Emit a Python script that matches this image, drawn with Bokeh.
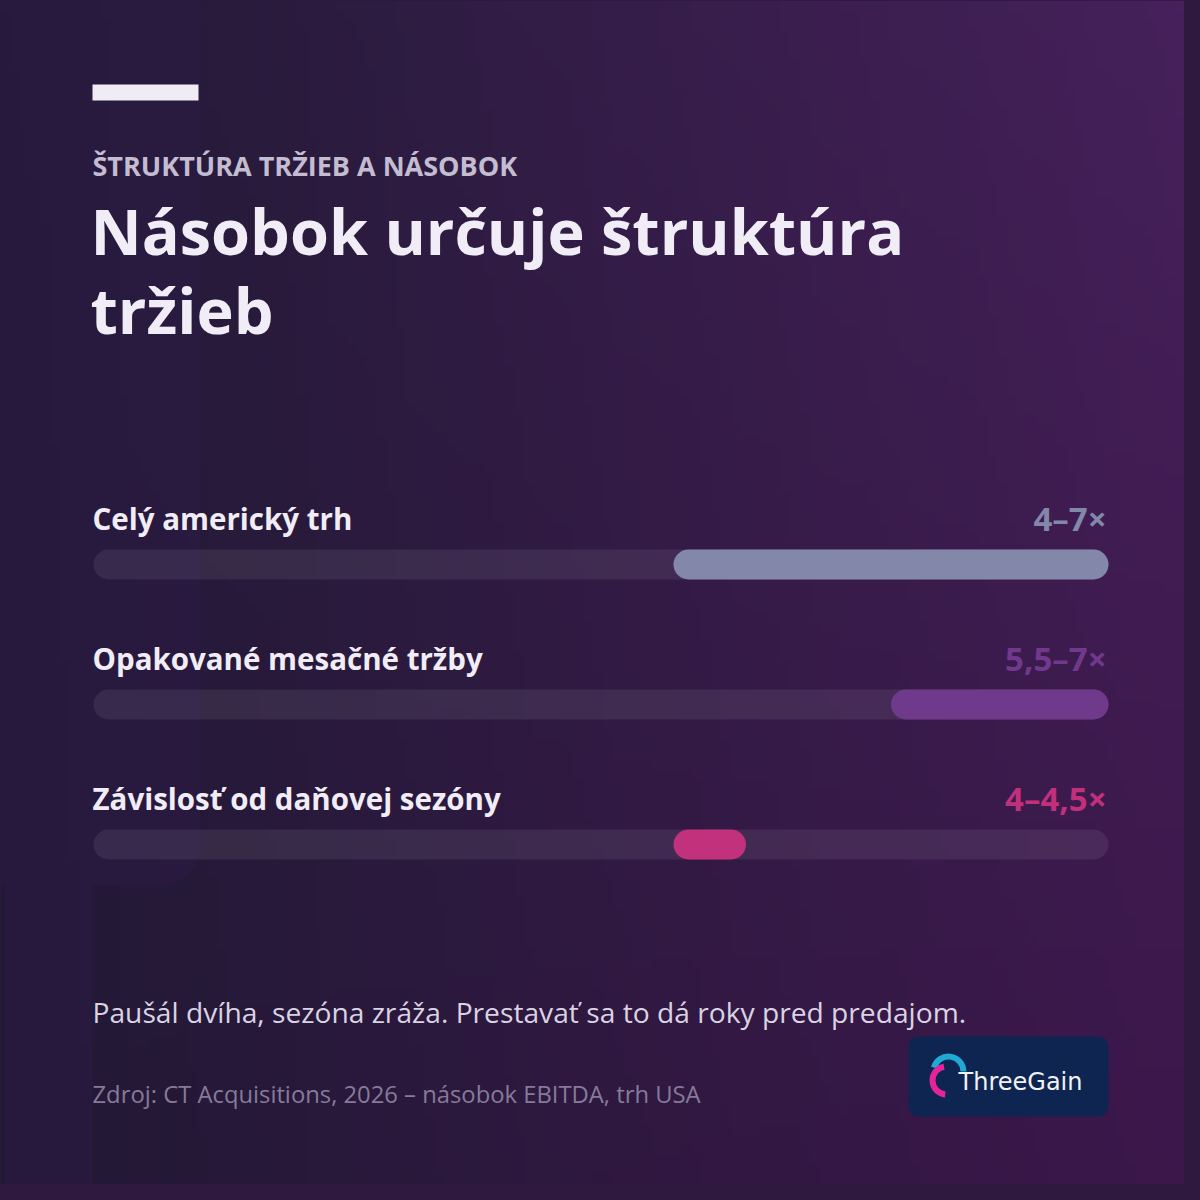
import numpy as np
from bokeh.plotting import figure
from bokeh.models import Range1d, ColumnDataSource
from bokeh.core.properties import value
from bokeh.embed import file_html
from bokeh.resources import INLINE

# ---- data ----
categories = ["Celý americký trh", "Opakované mesačné tržby", "Závislosť od daňovej sezóny"]
low_multiple = [4.0, 5.5, 4.0]
high_multiple = [7.0, 7.0, 4.5]
range_labels = ["4–7×", "5,5–7×", "4–4,5×"]
scale_min, scale_max = 0.0, 7.0

kicker = "ŠTRUKTÚRA TRŽIEB A NÁSOBOK"
title_lines = ["Násobok určuje štruktúra", "tržieb"]
note = "Paušál dvíha, sezóna zráža. Prestavať sa to dá roky pred predajom."
source_txt = "Zdroj: CT Acquisitions, 2026 – násobok EBITDA, trh USA"
brand = "ThreeGain"

# ---- styles ----
bar_colors = ["#8387aa", "#6f3a8b", "#c2317b"]
label_colors = ["#8288aa", "#71398d", "#c2307c"]
FONT = "Open Sans"

W = H = 1184
# value axis: 0 -> px 93, 7 -> px 1108
px_per = (1108 - 93) / (scale_max - scale_min)
xr = Range1d(scale_min - 93 / px_per, scale_max + (W - 1108) / px_per)

p = figure(width=W, height=H, output_backend="svg", toolbar_location=None,
           x_range=xr, y_range=Range1d(H, 0), min_border=0)
p.extra_x_ranges = {"px": Range1d(0, W)}
p.xaxis.visible = False
p.yaxis.visible = False
p.grid.visible = False
p.outline_line_color = None
p.background_fill_color = "#2a1b40"
p.border_fill_color = "#2a1b40"

# background gradient (style)
gw, gh = 120, 120
tl = np.array([0x22, 0x1a, 0x35]); tr = np.array([0x46, 0x21, 0x5b])
bl = np.array([0x21, 0x19, 0x34]); br = np.array([0x3c, 0x17, 0x4b])
u = np.linspace(0, 1, gw)[None, :, None]
v = np.linspace(0, 1, gh)[:, None, None]
col = (tl * (1 - u) * (1 - v) + tr * u * (1 - v) + bl * (1 - u) * v + br * u * v).astype(np.uint32)
img = np.zeros((gh, gw), dtype=np.uint32)
view = img.view(dtype=np.uint8).reshape((gh, gw, 4))
view[:, :, 0] = col[:, :, 0]
view[:, :, 1] = col[:, :, 1]
view[:, :, 2] = col[:, :, 2]
view[:, :, 3] = 255
p.image_rgba(image=[img], x=0, y=0, dw=W, dh=H, x_range_name="px")

# ghost shape on left
p.quad(left=[-40], right=[200], top=[-40], bottom=[885], x_range_name="px",
       fill_color="#2b1a43", fill_alpha=0.65, line_color=None, border_radius=40)
p.quad(left=[4], right=[92], top=[885], bottom=[1200], x_range_name="px",
       fill_color="#2b1a43", fill_alpha=0.65, line_color=None)

# accent bar
p.quad(left=[92], right=[198], top=[84], bottom=[100], x_range_name="px",
       fill_color="#f0ecf5", line_color=None)

# kicker + title
p.text(x=[92], y=[165], text=[kicker], x_range_name="px",
       text_font=value(FONT), text_font_style="bold", text_font_size="27px",
       text_color="#c4bdd2", text_baseline="alphabetic")
p.text(x=[90, 90], y=[230, 309], text=title_lines, x_range_name="px",
       text_font=value(FONT), text_font_style="bold", text_font_size="63px",
       text_color="#f1edf6", text_baseline="alphabetic")

# bars
row_y = [564 + 140 * i for i in range(len(categories))]
label_y = [y - 46 for y in row_y]
src = ColumnDataSource(dict(cat=categories, lo=low_multiple, hi=high_multiple,
                            lab=range_labels, y=row_y, ly=label_y,
                            c=bar_colors, lc=label_colors,
                            t0=[scale_min] * 3, t1=[scale_max] * 3))
p.hbar(y="y", left="t0", right="t1", height=30, source=src,
       fill_color="white", fill_alpha=0.075, line_color=None, border_radius=15)
p.hbar(y="y", left="lo", right="hi", height=30, source=src,
       fill_color="c", line_color=None, border_radius=15)
p.text(x=92, y="ly", text="cat", source=src, x_range_name="px",
       text_font=value(FONT), text_font_style="bold", text_font_size="29.5px",
       text_color="#f1edf6", text_baseline="middle")
p.text(x=1106, y="ly", text="lab", source=src, x_range_name="px",
       text_font=value(FONT), text_font_style="bold", text_font_size="33px",
       text_color="lc", text_align="right", text_baseline="middle")

# note + source
p.text(x=[92], y=[1011], text=[note], x_range_name="px",
       text_font=value(FONT), text_font_size="28.2px",
       text_color="#d9d3e3", text_baseline="middle")
p.text(x=[92], y=[1093], text=[source_txt], x_range_name="px",
       text_font=value(FONT), text_font_size="23.8px",
       text_color="#857b99", text_baseline="middle")

# logo
p.quad(left=[908], right=[1108], top=[1036], bottom=[1116], x_range_name="px",
       fill_color="#0d2550", line_color=None, border_radius=10)
p.annular_wedge(x=[948], y=[1071], inner_radius=12, outer_radius=18,
                start_angle=np.radians(0), end_angle=np.radians(165),
                x_range_name="px", fill_color="#1fa9d4", line_color=None)
p.annular_wedge(x=[946], y=[1080], inner_radius=11, outer_radius=17,
                start_angle=np.radians(100), end_angle=np.radians(265),
                x_range_name="px", fill_color="#e5239b", line_color=None)
p.text(x=[1020], y=[1081], text=[brand], x_range_name="px",
       text_font=value("DejaVu Sans"), text_font_size="24px",
       text_color="#f2f2f6", text_align="center", text_baseline="middle")

html = file_html(p, INLINE)
html = html.replace("</head>", "<style>body{background:#30193f;}</style></head>", 1)
open("out.html", "w").write(html)
